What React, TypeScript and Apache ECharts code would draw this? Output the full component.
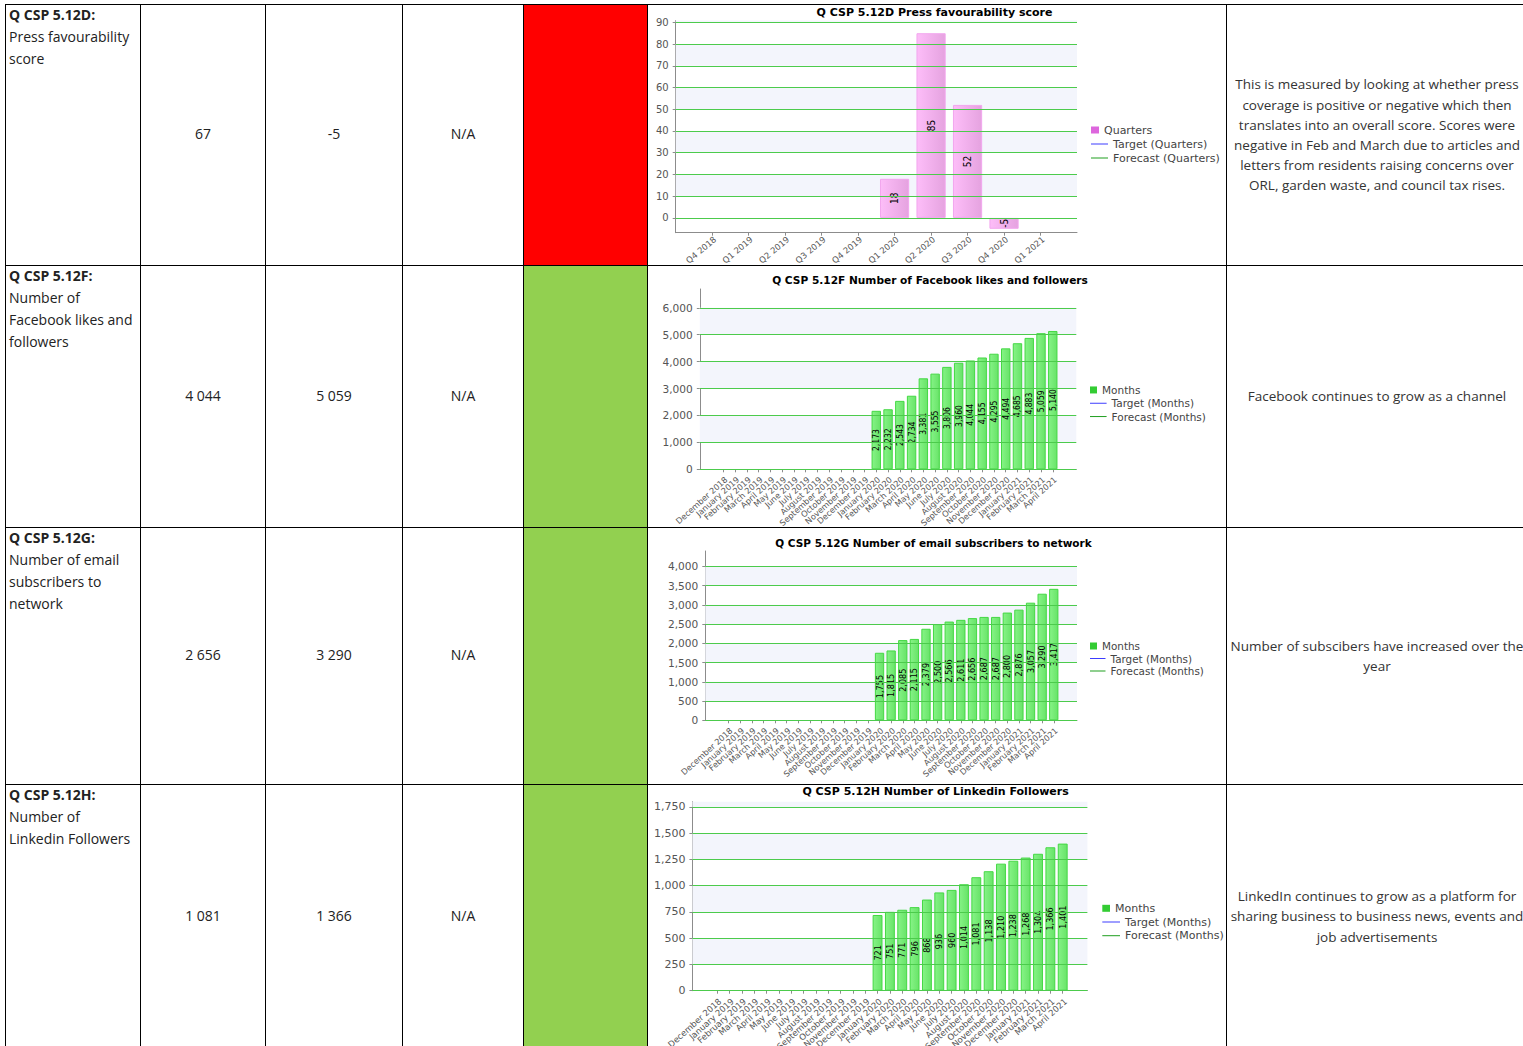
import React, { useEffect, useRef } from "react";
import * as echarts from "echarts";

// ---------- table data ----------
const rowCodes = ["Q CSP 5.12D:", "Q CSP 5.12F:", "Q CSP 5.12G:", "Q CSP 5.12H:"];
const rowNames = [
  ["Press favourability", "score"],
  ["Number of", "Facebook likes and", "followers"],
  ["Number of email", "subscribers to", "network"],
  ["Number of", "Linkedin Followers"],
];
const previousValues = ["67", "4 044", "2 656", "1 081"];
const currentValues = ["-5", "5 059", "3 290", "1 366"];
const targetValues = ["N/A", "N/A", "N/A", "N/A"];
const statusColors = ["#FF0000", "#92D050", "#92D050", "#92D050"];
const comments = [
  [
    "This is measured by looking at whether press",
    "coverage is positive or negative which then",
    "translates into an overall score. Scores were",
    "negative in Feb and March due to articles and",
    "letters from residents raising concerns over",
    "ORL, garden waste, and council tax rises.",
  ],
  ["Facebook continues to grow as a channel"],
  ["Number of subscibers have increased over the", "year"],
  [
    "LinkedIn continues to grow as a platform for",
    "sharing business to business news, events and",
    "job advertisements",
  ],
];

// ---------- chart data ----------
const quarterLabels = ["Q4 2018", "Q1 2019", "Q2 2019", "Q3 2019", "Q4 2019", "Q1 2020", "Q2 2020", "Q3 2020", "Q4 2020", "Q1 2021"];
const pressScores = [null, null, null, null, null, 18, 85, 52, -5, null];
const pressTicks = [0, 10, 20, 30, 40, 50, 60, 70, 80, 90];

const monthLabels = [
  "December 2018", "January 2019", "February 2019", "March 2019", "April 2019", "May 2019", "June 2019",
  "July 2019", "August 2019", "September 2019", "October 2019", "November 2019", "December 2019",
  "January 2020", "February 2020", "March 2020", "April 2020", "May 2020", "June 2020", "July 2020",
  "August 2020", "September 2020", "October 2020", "November 2020", "December 2020", "January 2021",
  "February 2021", "March 2021", "April 2021",
];
const facebookFollowers = [
  null, null, null, null, null, null, null, null, null, null, null, null, null,
  2173, 2232, 2543, 2734, 3381, 3555, 3806, 3960, 4044, 4155, 4295, 4494, 4685, 4883, 5059, 5140,
];
const facebookTicks = [0, 1000, 2000, 3000, 4000, 5000, 6000];
const emailSubscribers = [
  null, null, null, null, null, null, null, null, null, null, null, null, null,
  1755, 1815, 2085, 2115, 2379, 2500, 2566, 2611, 2656, 2687, 2687, 2800, 2876, 3057, 3290, 3417,
];
const emailTicks = [0, 500, 1000, 1500, 2000, 2500, 3000, 3500, 4000];
const linkedinFollowers = [
  null, null, null, null, null, null, null, null, null, null, null, null, null,
  721, 751, 771, 796, 868, 936, 960, 1014, 1081, 1138, 1210, 1238, 1268, 1304, 1366, 1401,
];
const linkedinTicks = [0, 250, 500, 750, 1000, 1250, 1500, 1750];

// ---------- layout ----------
const colX = [5, 140, 265, 402, 523, 647, 1226];
const rowY = [4, 265, 527, 784, 1048];

const CHART_FONT = "'DejaVu Sans', Verdana, sans-serif";
const NARROW_FONT = "'Liberation Sans Narrow', 'DejaVu Sans Condensed', sans-serif";

type ChartCfg = {
  title: string;
  labels: string[];
  values: (number | null)[];
  ticks: number[];
  offset: number;
  xMax: number;
  yMin: number;
  yMax: number;
  grid: { left: number; right: number; top: number; bottom: number };
  titleLeft: number;
  titleTop: number;
  titleSize: number;
  ySize: number;
  xSize: number;
  xRotate: number;
  xAlign: string;
  xMargin: number;
  legendSize: number;
  legendLeft: number;
  legendTop: number;
  legendStep: number;
  squareW: number;
  lineW: number;
  barLabelSize: number;
  barName: string;
  targetName: string;
  forecastName: string;
  pink: boolean;
};

function buildOption(c: ChartCfg) {
  const pos = c.labels.map((_, i) => i + c.offset);
  // empty labels at the axis ends keep every category label visible
  const labelPos = [0, ...pos, c.xMax];
  const barData = c.values
    .map((v, i) => (v == null ? null : [i + c.offset, v]))
    .filter((d) => d != null);
  const bands: any[] = [];
  for (let i = 1; i < c.ticks.length; i += 2) {
    bands.push([{ yAxis: c.ticks[i] }, { yAxis: i + 1 < c.ticks.length ? c.ticks[i + 1] : c.yMax }]);
  }
  const legendSquare = c.pink ? "#DD66DD" : "#33CC33";
  const fill = c.pink
    ? new echarts.graphic.LinearGradient(0, 0, 1, 0, [
        { offset: 0, color: "rgba(253,186,248,0.95)" },
        { offset: 1, color: "rgba(228,158,222,0.95)" },
      ])
    : new echarts.graphic.LinearGradient(0, 0, 1, 0, [
        { offset: 0, color: "rgba(118,242,118,0.88)" },
        { offset: 1, color: "rgba(84,224,84,0.88)" },
      ]);
  const border = c.pink ? "#F2A6EE" : "#44D844";
  return {
    animation: false,
    textStyle: { fontFamily: CHART_FONT },
    title: {
      text: c.title,
      left: c.titleLeft,
      top: c.titleTop,
      textAlign: "center",
      padding: 0,
      textStyle: { fontSize: c.titleSize, fontWeight: "bold", color: "#000", fontFamily: CHART_FONT },
    },
    legend: [
      {
        orient: "vertical",
        left: c.legendLeft,
        top: c.legendTop,
        padding: 0,
        itemGap: 0,
        selectedMode: false,
        icon: "rect",
        itemWidth: c.squareW,
        itemHeight: 7,
        textStyle: { fontSize: c.legendSize, color: "#444", lineHeight: c.legendStep, fontFamily: CHART_FONT },
        data: [{ name: c.barName, itemStyle: { color: legendSquare, borderWidth: 0 } }],
      },
      {
        orient: "vertical",
        left: c.legendLeft,
        top: c.legendTop + c.legendStep,
        padding: 0,
        itemGap: 0,
        selectedMode: false,
        icon: "rect",
        itemWidth: c.lineW,
        itemHeight: 1,
        textStyle: { fontSize: c.legendSize, color: "#444", lineHeight: c.legendStep, fontFamily: CHART_FONT },
        data: [
          { name: c.targetName, itemStyle: { color: "#3C3CFF", borderWidth: 0 } },
          { name: c.forecastName, itemStyle: { color: "#1E9E1E", borderWidth: 0 } },
        ],
      },
    ],
    grid: { ...c.grid, containLabel: false, outerBoundsMode: "none" },
    xAxis: {
      type: "value",
      min: 0,
      max: c.xMax,
      axisLine: { show: true, onZero: false, lineStyle: { color: "#8C8C8C", width: 1 } },
      axisTick: { show: true, customValues: pos, length: 3, lineStyle: { color: "#8C8C8C" } },
      axisLabel: {
        customValues: labelPos,
        formatter: (v: number) => c.labels[Math.round(v) - c.offset] ?? "",
        rotate: c.xRotate,
        verticalAlign: c.xAlign,
        margin: c.xMargin,
        showMinLabel: true,
        showMaxLabel: true,
        hideOverlap: false,
        fontSize: c.xSize,
        color: "#555",
        fontFamily: CHART_FONT,
      },
      splitLine: { show: false },
    },
    yAxis: {
      type: "value",
      min: c.yMin,
      max: c.yMax,
      axisLine: { show: true, lineStyle: { color: "#8C8C8C", width: 1 } },
      axisTick: { show: true, customValues: c.ticks, length: 3, lineStyle: { color: "#8C8C8C" } },
      axisLabel: {
        customValues: c.ticks,
        formatter: (v: number) => Number(v).toLocaleString("en-US"),
        margin: 7,
        showMinLabel: true,
        showMaxLabel: true,
        fontSize: c.ySize,
        color: "#555",
        fontFamily: CHART_FONT,
      },
      splitLine: { show: false },
    },
    series: [
      {
        type: "line",
        name: "grid-helper",
        data: [],
        z: 1,
        silent: true,
        markArea: { silent: true, itemStyle: { color: "#F3F5FC" }, data: bands },
        markLine: {
          silent: true,
          symbol: ["none", "none"],
          label: { show: false },
          lineStyle: { color: "#4CCB4C", type: "solid", width: 1 },
          data: c.ticks.map((t) => ({ yAxis: t })),
        },
      },
      {
        type: "bar",
        name: c.barName,
        data: barData,
        z: 3,
        barWidth: "80%",
        itemStyle: { color: fill, borderColor: border, borderWidth: 1 },
        label: {
          show: true,
          position: "inside",
          rotate: 90,
          color: "#000",
          fontSize: c.barLabelSize,
          fontFamily: NARROW_FONT,
          formatter: (p: any) => Number(p.value[1]).toLocaleString("en-US"),
        },
      },
      { type: "line", name: c.targetName, data: [], color: "#3C3CFF" },
      { type: "line", name: c.forecastName, data: [], color: "#1E9E1E" },
    ],
  };
}

const chartCfgs: ChartCfg[] = [
  {
    title: "Q CSP 5.12D Press favourability score",
    labels: quarterLabels,
    values: pressScores,
    ticks: pressTicks,
    offset: 1,
    xMax: 11,
    yMin: -6.8,
    yMax: 90.8,
    grid: { left: 27.7, right: 149, top: 15.6, bottom: 32.3 },
    titleLeft: 286.5,
    titleTop: 1.5,
    titleSize: 11,
    ySize: 10,
    xSize: 8.5,
    xRotate: 40,
    xAlign: "top",
    xMargin: 2,
    legendSize: 11,
    legendLeft: 443,
    legendTop: 118,
    legendStep: 14,
    squareW: 8,
    lineW: 17,
    barLabelSize: 10,
    barName: "Quarters",
    targetName: "Target (Quarters)",
    forecastName: "Forecast (Quarters)",
    pink: true,
  },
  {
    title: "Q CSP 5.12F Number of Facebook likes and followers",
    labels: monthLabels,
    values: facebookFollowers,
    ticks: facebookTicks,
    offset: 2,
    xMax: 32,
    yMin: 0,
    yMax: 6700,
    grid: { left: 51.8, right: 149.7, top: 23, bottom: 57.7 },
    titleLeft: 282,
    titleTop: 8,
    titleSize: 10.6,
    ySize: 10.6,
    xSize: 8.2,
    xRotate: 42,
    xAlign: "top",
    xMargin: 6,
    legendSize: 10.5,
    legendLeft: 442,
    legendTop: 117.3,
    legendStep: 13.3,
    squareW: 7,
    lineW: 16.6,
    barLabelSize: 8.5,
    barName: "Months",
    targetName: "Target (Months)",
    forecastName: "Forecast (Months)",
    pink: false,
  },
  {
    title: "Q CSP 5.12G Number of email subscribers to network",
    labels: monthLabels,
    values: emailSubscribers,
    ticks: emailTicks,
    offset: 2,
    xMax: 32,
    yMin: 0,
    yMax: 4400,
    grid: { left: 57.3, right: 149, top: 23, bottom: 63.7 },
    titleLeft: 285.5,
    titleTop: 9,
    titleSize: 10.5,
    ySize: 10.6,
    xSize: 8.2,
    xRotate: 42,
    xAlign: "top",
    xMargin: 6,
    legendSize: 10.4,
    legendLeft: 442,
    legendTop: 111.75,
    legendStep: 12.5,
    squareW: 7,
    lineW: 15.5,
    barLabelSize: 9,
    barName: "Months",
    targetName: "Target (Months)",
    forecastName: "Forecast (Months)",
    pink: false,
  },
  {
    title: "Q CSP 5.12H Number of Linkedin Followers",
    labels: monthLabels,
    values: linkedinFollowers,
    ticks: linkedinTicks,
    offset: 2,
    xMax: 32,
    yMin: 0,
    yMax: 1800,
    grid: { left: 44.4, right: 138.6, top: 16.7, bottom: 57.3 },
    titleLeft: 287.6,
    titleTop: 1,
    titleSize: 11,
    ySize: 11,
    xSize: 8.5,
    xRotate: 42,
    xAlign: "top",
    xMargin: 6,
    legendSize: 11,
    legendLeft: 454.3,
    legendTop: 116.45,
    legendStep: 13.7,
    squareW: 7.7,
    lineW: 17.7,
    barLabelSize: 9,
    barName: "Months",
    targetName: "Target (Months)",
    forecastName: "Forecast (Months)",
    pink: false,
  },
];

function Chart({ cfg, box }: { cfg: ChartCfg; box: React.CSSProperties }) {
  const ref = useRef<HTMLDivElement>(null);
  useEffect(() => {
    const chart = echarts.init(ref.current as HTMLDivElement, null, { renderer: "svg" });
    chart.setOption(buildOption(cfg) as any);
    return () => chart.dispose();
  }, [cfg]);
  return <div ref={ref} style={{ position: "absolute", ...box }} />;
}

export default function App() {
  const textColor = "#222";
  const cells: React.ReactNode[] = [];
  for (let r = 0; r < 4; r++) {
    const top = rowY[r];
    const h = rowY[r + 1] - top;
    cells.push(
      <div
        key={"name" + r}
        style={{
          position: "absolute",
          left: colX[0] + 1,
          top: top,
          width: colX[1] - colX[0] - 1,
          paddingLeft: 3,
          fontSize: 14,
          lineHeight: "22px",
          color: textColor,
          whiteSpace: "nowrap",
        }}
      >
        <div style={{ fontWeight: 700 }}>{rowCodes[r]}</div>
        {rowNames[r].map((l, i) => (
          <div key={i}>{l}</div>
        ))}
      </div>
    );
    const vals = [previousValues[r], currentValues[r], targetValues[r]];
    vals.forEach((v, i) => {
      cells.push(
        <div
          key={"v" + r + "_" + i}
          style={{
            position: "absolute",
            left: colX[i + 1] + 1,
            top: top + 1,
            width: colX[i + 2] - colX[i + 1] - 1,
            height: h - 4,
            display: "flex",
            alignItems: "center",
            justifyContent: "center",
            fontSize: 14,
            color: textColor,
          }}
        >
          {v}
        </div>
      );
    });
    cells.push(
      <div
        key={"s" + r}
        style={{
          position: "absolute",
          left: colX[4] + 1,
          top: top + 1,
          width: colX[5] - colX[4] - 1,
          height: h - 1,
          background: statusColors[r],
        }}
      />
    );
    cells.push(
      <div
        key={"c" + r}
        style={{
          position: "absolute",
          left: colX[6] + 1,
          top: top + 1,
          width: 300,
          height: h - 1,
          display: "flex",
          flexDirection: "column",
          alignItems: "center",
          justifyContent: "center",
          fontSize: 13.5,
          lineHeight: "20.2px",
          color: "#333",
          whiteSpace: "nowrap",
        }}
      >
        {comments[r].map((l, i) => (
          <div key={i}>{l}</div>
        ))}
      </div>
    );
    cells.push(
      <Chart
        key={"chart" + r}
        cfg={chartCfgs[r]}
        box={{ left: colX[5] + 1, top: top + 1, width: colX[6] - colX[5] - 1, height: h - 1 }}
      />
    );
  }
  const lines: React.ReactNode[] = [];
  colX.forEach((x, i) =>
    lines.push(
      <div key={"vl" + i} style={{ position: "absolute", left: x, top: rowY[0], width: 1, height: 1100, background: "#000" }} />
    )
  );
  rowY.forEach((y, i) =>
    lines.push(
      <div key={"hl" + i} style={{ position: "absolute", left: colX[0], top: y, width: 1600, height: 1, background: "#000" }} />
    )
  );
  return (
    <div
      style={{
        position: "fixed",
        left: 0,
        top: 0,
        width: 1523,
        height: 1046,
        overflow: "hidden",
        background: "#fff",
        fontFamily: "'Open Sans', 'Noto Sans', sans-serif",
      }}
    >
      {cells}
      {lines}
    </div>
  );
}
